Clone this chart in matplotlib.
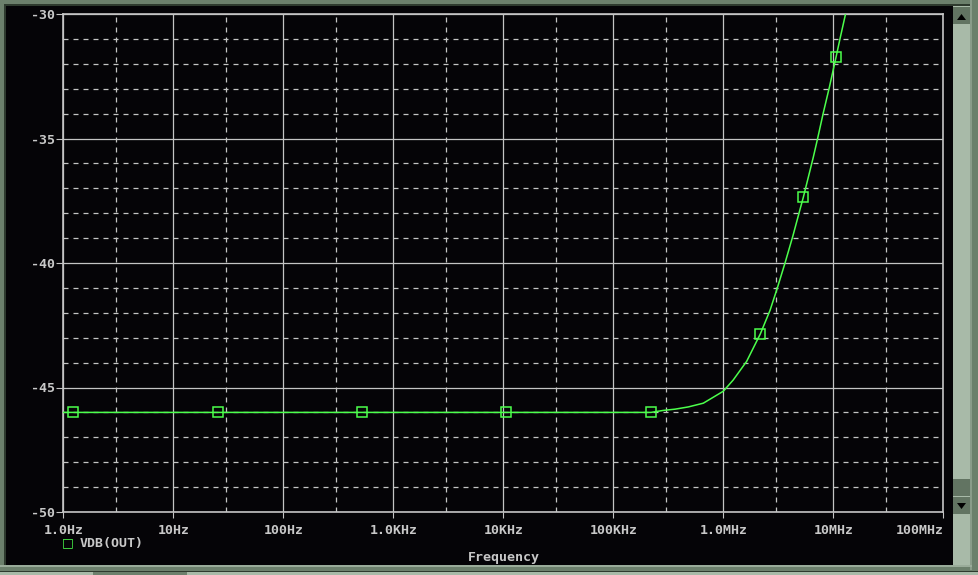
import matplotlib.pyplot as plt
from matplotlib.patches import Rectangle, Polygon
from matplotlib.ticker import FixedLocator, NullFormatter

# trace VDB(OUT)
freq = [1.0, 1.22, 25.5, 519, 10.6e3, 220e3, 285e3, 364e3, 481e3, 658e3,
        1.0e6, 1.23e6, 1.63e6, 2.17e6, 2.66e6, 3.10e6, 3.64e6, 4.3e6, 4.98e6,
        5.34e6, 6.58e6, 7.16e6, 8.11e6, 9.20e6, 10.58e6, 11.5e6, 12.86e6]
vdb = [-46.0, -46.0, -46.0, -46.0, -46.0, -46.0, -45.92, -45.87, -45.78, -45.63,
       -45.15, -44.70, -43.95, -42.85, -41.90, -41.00, -40.00, -38.90, -37.85,
       -37.36, -35.75, -35.05, -33.97, -32.95, -31.74, -31.00, -30.04]

marker_freq = [1.22, 25.5, 519, 10.6e3, 220e3, 2.17e6, 5.34e6, 10.58e6]
marker_vdb = [-46.0, -46.0, -46.0, -46.0, -46.0, -42.85, -37.36, -31.74]

x_ticks = [1, 10, 100, 1e3, 1e4, 1e5, 1e6, 1e7, 1e8]
x_labels = ['1.0Hz', '10Hz', '100Hz', '1.0KHz', '10KHz', '100KHz', '1.0MHz', '10MHz', '100MHz']
y_ticks = [-50, -45, -40, -35, -30]
y_labels = ['-50', '-45', '-40', '-35', '-30']

W, H = 979, 575
FRAME = '#6c806c'
LIGHT = '#a8baa8'
BUTTON = '#627462'
GRID = '#c4c4c4'
GREEN = '#4cff4c'
TXT = '#c8c8c8'
FONT = dict(family='DejaVu Sans Mono', weight='bold', size=9.5, color=TXT)

fig = plt.figure(figsize=(W / 100, H / 100), dpi=100, facecolor=FRAME)


def px_rect(x, y, w, h, color, z=0):
    fig.add_artist(Rectangle((x / W, 1 - (y + h) / H), w / W, h / H,
                             transform=fig.transFigure, facecolor=color,
                             edgecolor='none', zorder=z))


def px_tri(pts, color):
    fig.add_artist(Polygon([(a / W, 1 - b / H) for a, b in pts], closed=True,
                           transform=fig.transFigure, facecolor=color,
                           edgecolor='none', zorder=3))


# window chrome
px_rect(0, 0, W, H, FRAME)
px_rect(4, 4, 966, 562, '#2e3a2e')
px_rect(6, 6, 947, 559, '#050407')
px_rect(953, 6, 17, 559, LIGHT)
px_rect(953, 7, 17, 17, BUTTON)
px_rect(953, 479, 17, 17, BUTTON)
px_rect(953, 497, 17, 17, BUTTON)
px_tri([(957, 20), (966, 20), (961.5, 14)], '#000000')
px_tri([(957, 503), (966, 503), (961.5, 509)], '#000000')
px_rect(970, 0, 2, 570, '#8a9c8a')
px_rect(0, 565, 972, 2, '#9aac9a')
px_rect(0, 571, W, 1, '#2e3a2e')
px_rect(0, 572, 93, 3, LIGHT)
px_rect(95, 572, 90, 3, FRAME)
px_rect(187, 572, 792, 3, LIGHT)

ax = fig.add_axes([63.3 / W, 1 - 512 / H, 880 / W, 498 / H])
ax.set_facecolor('none')
ax.set_xscale('log')
ax.set_xlim(1, 1e8)
ax.set_ylim(-50, -30)

ax.xaxis.set_major_locator(FixedLocator(x_ticks))
ax.xaxis.set_minor_locator(FixedLocator([3 * t for t in x_ticks[:-1]]))
ax.xaxis.set_minor_formatter(NullFormatter())
ax.set_xticklabels(x_labels)
ax.yaxis.set_major_locator(FixedLocator(y_ticks))
ax.yaxis.set_minor_locator(FixedLocator([v for v in range(-49, -30) if v % 5]))
ax.set_yticklabels(y_labels)

ax.grid(which='major', color=GRID, lw=0.9, ls='-')
ax.grid(which='minor', color=GRID, lw=0.9, ls=(0, (4, 4)))
ax.tick_params(which='major', axis='x', length=4, color=GRID, pad=5)
ax.tick_params(which='major', axis='y', length=5, color=GRID, pad=1)
ax.tick_params(which='minor', length=0)
for lab in ax.get_xticklabels() + ax.get_yticklabels():
    lab.set_fontfamily(FONT['family'])
    lab.set_fontweight('bold')
    lab.set_fontsize(FONT['size'])
    lab.set_color(TXT)
# last frequency label sits inside the plot edge
ax.get_xticklabels()[-1].set_horizontalalignment('right')
for sp in ax.spines.values():
    sp.set_color(GRID)
    sp.set_linewidth(1.2)

ax.plot(freq, vdb, color=GREEN, lw=1.1, zorder=3)
ax.plot(marker_freq, marker_vdb, ls='none', marker='s', ms=6.5, mfc='none',
        mec=GREEN, mew=1.1, zorder=4)

# legend and axis title
fig.text(68 / W, 1 - 543 / H, '\u25a1', color=GREEN, fontsize=9, ha='center', va='center')
fig.text(80 / W, 1 - 543 / H, 'VDB(OUT)', ha='left', va='center', **FONT)
fig.text(504 / W, 1 - 557 / H, 'Frequency', ha='center', va='center', **FONT)

fig.savefig('out.png', dpi=100, facecolor=FRAME)
